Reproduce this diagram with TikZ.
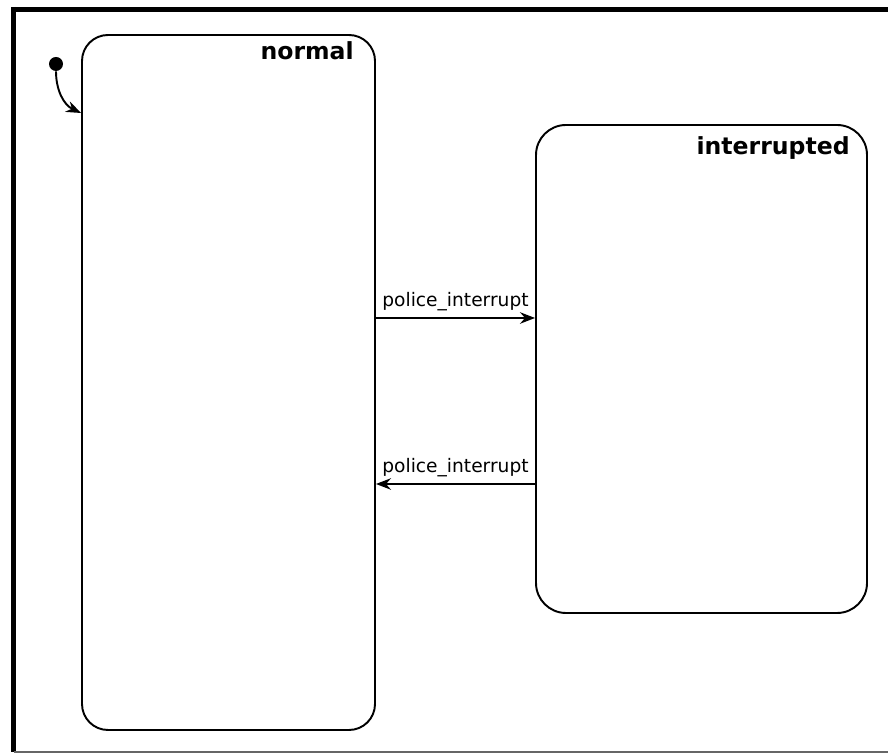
\documentclass[tikz,border=0pt]{standalone}
\usepackage{fontspec}
\setmainfont{DejaVu Sans}
\usepackage{tikz}
\usetikzlibrary{arrows.meta, positioning}

\begin{document}
\begin{tikzpicture}[font=\fontsize{10.6}{12}\selectfont,
    every node/.style={align=center},
    statebox/.style={draw, line width=1.1pt, minimum width=#1},
    statetitle/.style={font=\fontsize{13.4}{15}\selectfont\bfseries,
      inner sep=0pt, anchor=north east},
    trans/.style={-{Stealth[length=3mm, width=2.3mm, inset=1mm]},
      line width=1.1pt}]
  \useasboundingbox (0,0) rectangle (17.76,15.08);

  % frame
  \draw[line width=0.1cm] (0.22,14.89) -- (17.76,14.89);
  \draw[line width=0.1cm] (0.27,14.94) -- (0.27,0.04);
  \draw[gray!80!black, line width=0.8pt] (0.27,0.04) -- (17.76,0.04);

  \node[statebox=5.86cm, minimum height=13.9cm, rounded corners=0.52cm]
    (normal) at (4.57,7.43) {};
  \node[statebox=6.62cm, minimum height=9.76cm, rounded corners=0.6cm]
    (interrupted) at (14.03,7.70) {};

  \node[statetitle, below left=0.14cm and 0.44cm of normal.north east]
    (normaltitle) {normal};
  \node[statetitle, below left=0.24cm and 0.36cm of interrupted.north east]
    (interruptedtitle) {interrupted};

  % initial state
  \node[circle, fill, inner sep=0pt, minimum size=0.28cm] (init) at (1.12,13.8) {};
  \coordinate (entry) at (normal.west |- 0,12.82);
  \draw[trans] (init) to[out=-90, in=155] (entry);

  \draw[trans] ([yshift=1.29cm]normal.east)
    -- node[above]{police\_interrupt}
    ([yshift=1.29cm]normal.east -| interrupted.west);
  \draw[trans] ([yshift=-2.03cm]normal.east -| interrupted.west)
    -- node[above]{police\_interrupt}
    ([yshift=-2.03cm]normal.east);
\end{tikzpicture}
\end{document}
